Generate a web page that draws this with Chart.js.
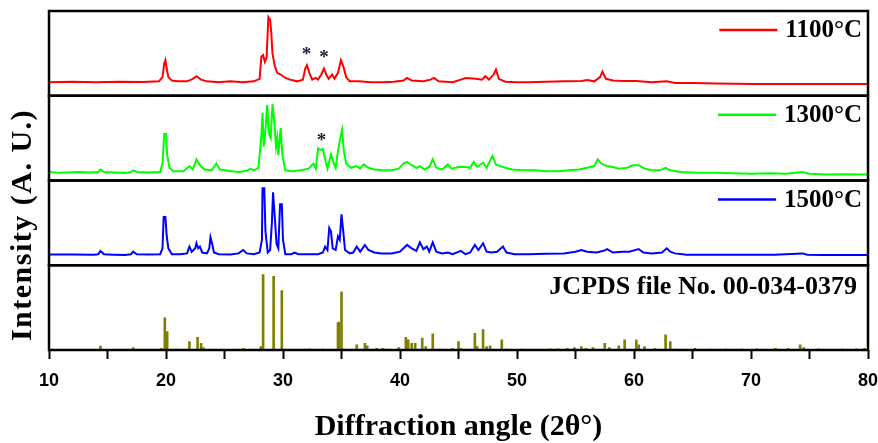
<!DOCTYPE html>
<html>
<head>
<meta charset="utf-8">
<script src="https://cdn.jsdelivr.net/npm/chart.js@4"></script>
<style>
  html, body { margin: 0; padding: 0; background: #fff; }
</style>
</head>
<body>
<canvas id="xrd" width="878" height="443"></canvas>
<script>
// 2theta (deg) vs relative intensity per panel (0-100 of panel height)
const red1100 = [
  [10,16],[12,16.5],[14,16],[16,16.5],[18,16.3],[19.4,17],[19.7,22],[19.85,38],[19.95,42],[20.05,33],[20.2,22],[20.5,18],
  [21,17],[21.8,17],[22.3,20],[22.6,23],[23,19],[23.5,17],[24.5,16],[25.5,17],[26.5,16],[27.5,17],[28,20],[28.15,46],
  [28.3,48],[28.45,40],[28.6,45],[28.75,93],[28.9,90],[29.0,74],[29.1,50],[29.3,35],[29.5,27],[29.8,25],[30.2,21],[30.6,19],
  [31.2,17],[31.7,19],[31.9,32],[32.05,36],[32.25,27],[32.5,19],[32.8,21],[33.0,19],[33.3,26],[33.5,32],[33.7,25],[33.9,20],
  [34.2,25],[34.4,20],[34.7,27],[34.95,42],[35.15,35],[35.4,22],[35.7,17],[36.5,17],[37.5,16],[38.5,16],[39.5,16.5],[40.3,18],
  [40.6,21],[41,18],[42,17],[42.6,19],[42.9,21],[43.3,17],[44.5,16],[45.2,19],[45.6,21],[46.5,20],[47.0,19],[47.3,23],
  [47.6,19],[48.0,25],[48.2,31],[48.45,20],[49,16.5],[50,16],[51,16],[52.5,16.5],[54,17],[55.5,17.5],[56,18.5],[56.6,17],
  [57.1,22],[57.3,28.5],[57.6,20],[58.2,18],[59,17.5],[60.2,17.5],[61.5,16],[62.8,17],[63.5,15],[65,15],[67,14.5],[70,14],
  [72,14],[74.5,14],[77,14],[80,14]
];
const green1300 = [
  [10,10],[11,9],[12.5,10],[13.5,9.5],[14.2,10],[14.4,13],[14.7,10],[15.5,9.5],[16.5,9],[17.0,10],[17.2,12],[17.5,10],
  [18.5,9.5],[19.5,10],[19.7,20],[19.85,55],[20.0,55],[20.1,30],[20.3,15],[20.6,11],[21.5,11],[22.0,17],[22.3,13],[22.6,25],
  [22.9,18],[23.3,13],[23.9,12],[24.3,20],[24.6,13],[25.1,12],[25.6,11],[26.3,10],[27.0,12],[27.2,14],[27.5,12],[27.9,15],
  [28.15,52],[28.25,80],[28.35,40],[28.5,60],[28.65,89],[28.8,55],[28.95,50],[29.1,90],[29.25,70],[29.4,40],[29.5,50],[29.6,30],
  [29.8,62],[29.95,30],[30.2,12],[30.8,11],[31.5,12],[32.2,14],[32.6,20],[32.8,14],[33.0,38],[33.2,36],[33.4,37],[33.6,25],
  [33.8,14],[34.1,31],[34.3,22],[34.5,15],[34.7,35],[34.9,50],[35.05,60],[35.2,35],[35.4,20],[35.8,15],[36.3,17],[36.6,14],
  [36.9,19],[37.3,15],[37.8,13],[38.5,12],[39.3,12],[39.9,14],[40.3,20],[40.6,22],[41.0,18],[41.4,15],[41.7,17],[42.1,13],
  [42.5,16],[42.8,25],[43.1,15],[43.6,13],[44.1,19],[44.4,14],[45.0,16],[45.6,16],[46.0,15],[46.3,22],[46.6,16],[47.1,21],
  [47.4,15],[47.9,29],[48.2,19],[48.6,17],[49.0,15],[49.6,13],[50.5,12],[51.5,12],[52.5,11],[53.5,11],[54.5,12],[55.3,13],
  [56.0,15],[56.6,17],[56.9,25],[57.2,20],[57.7,17],[58.2,16],[58.7,14],[59.4,15],[59.9,18],[60.4,18],[60.9,14],[61.5,12],
  [62.2,12],[62.7,15],[63.1,12],[64,10],[65.5,9],[67,9],[68.5,8.5],[70,8],[71.5,8.5],[73,8],[74.4,10],[75,8],
  [76.5,7],[78,7.5],[80,7]
];
const blue1500 = [
  [10,12.7],[12,12.7],[13.8,12.5],[14.2,13],[14.4,16.7],[14.7,13],[15.5,12.5],[16.5,12],[17.0,13],[17.2,16],[17.5,13],[18.5,12.7],
  [19.5,13],[19.7,20],[19.8,57],[19.95,57],[20.05,36],[20.2,20],[20.5,13],[21.2,13],[21.8,14],[22.0,22],[22.2,16],[22.5,20],
  [22.6,26],[22.75,20],[22.9,22],[23.1,15],[23.5,14],[23.7,20],[23.8,33],[23.95,25],[24.1,15],[24.5,13],[25.5,12.7],[26.2,14],
  [26.6,18],[26.9,14],[27.5,13],[28.0,15],[28.2,30],[28.25,91],[28.4,91],[28.5,40],[28.7,15],[28.9,18],[29.05,50],[29.15,86],
  [29.3,56],[29.45,25],[29.6,20],[29.75,72],[29.9,72],[30.0,30],[30.2,13],[30.7,13],[31.0,15],[31.3,13],[32.3,13],[33.0,13],
  [33.4,15],[33.6,22],[33.8,18],[33.95,44],[34.1,40],[34.25,20],[34.5,18],[34.7,34],[34.85,30],[35.0,60],[35.15,40],[35.3,18],
  [35.7,14],[36.0,15],[36.3,22],[36.6,16],[37.0,24],[37.3,18],[37.8,15],[38.4,14],[39.3,14],[40.0,16],[40.6,24],[41.0,20],
  [41.4,17],[41.7,27],[42.0,19],[42.3,22],[42.5,16],[42.8,27],[43.1,16],[43.6,14],[44.1,15],[44.5,13],[45.2,17],[45.6,13],
  [46.0,15],[46.4,24],[46.7,18],[47.1,26],[47.4,16],[47.8,15],[48.3,16],[48.8,22],[49.1,15],[49.8,13],[51,13],[52.5,13.5],
  [54,14],[55.0,16],[55.5,18],[56.0,16],[56.8,15],[57.4,17],[57.7,19],[58.2,15],[59.0,16],[59.6,16],[60.4,19],[60.8,15],
  [61.5,14],[62.4,15],[62.8,20],[63.1,16],[63.5,14],[64.5,12.5],[66,12.5],[68,12.3],[70,12.5],[72,12.3],[74.4,14],[74.8,12.5],
  [76,12],[78,12.2],[80,12]
];
// reference pattern sticks
const jcpdsAngles = [
  10.3,14.4,17.2,19.6,19.9,20.1,20.9,22.0,22.7,23.0,
  23.2,26.6,28.1,28.3,29.2,29.3,29.9,31.9,32.3,33.4,
  34.7,34.8,35.0,35.2,36.3,37.0,37.2,38.0,38.5,38.8,
  39.9,40.5,40.7,41.0,41.3,41.9,42.2,42.8,43.4,44.5,
  45.0,45.2,46.4,46.6,47.1,47.4,47.7,48.7,49.1,50.4,
  52.9,53.5,54.3,54.9,55.5,55.9,56.5,57.5,57.9,58.7,
  59.2,60.2,60.4,60.9,61.8,62.7,63.1,63.5,65.2,66.5,
  67.8,69.2,70.5,72.1,73.2,74.2,74.5,75.8,77.8,79.0,79.7
];
const jcpdsHeights = [
  1,4.7,3,2,38,21.6,1,10,15,8,
  3,2,4,89,87,1,70,1,1.5,1,
  32,33,68.6,1,6,8,5,2,2,1,
  3,15,12,8,8,14,4,19,1,2,
  10,2,19.6,4,24,4,5,12,1,1,
  1.5,1.5,2,3,4,2,3,8,3,5,
  12,12,6,4,2,18,10,1,2,1,
  1,1,1.5,2,2,6,3,1.5,1,1.5,2
];

const panelIds = ['y1100', 'y1300', 'y1500', 'yJ'];
const panelLabels = ['1100°C', '1300°C', '1500°C', 'JCPDS file No. 00-034-0379'];
const panelColors = ['#ff0000', '#00ff00', '#0000ff', null];

const starPanels = ['y1100', 'y1100', 'y1300'];
const starAngles = [32.0, 33.5, 33.3];
const starLevels = [53, 49, 51];

const serif = "'Liberation Serif', 'Times New Roman', serif";

const toXY = arr => arr.map(([x, y]) => ({ x, y }));

const panelDecor = {
  id: 'panelDecor',
  afterDraw(chart) {
    const { ctx, chartArea, scales } = chart;
    ctx.save();

    // panel frames
    ctx.strokeStyle = '#000';
    ctx.lineWidth = 2.5;
    panelIds.forEach(id => {
      const s = scales[id];
      ctx.strokeRect(chartArea.left, s.top, chartArea.right - chartArea.left, s.bottom - s.top);
    });

    // per-panel legends
    ctx.textAlign = 'right';
    ctx.textBaseline = 'middle';
    panelIds.forEach((id, i) => {
      const s = scales[id];
      const hasLine = !!panelColors[i];
      const xr = chartArea.right - (hasLine ? 6 : 11);
      const y = s.top + (hasLine ? 20 : 22);
      ctx.font = 'bold ' + (hasLine ? 25 : 26) + 'px ' + serif;
      ctx.fillStyle = '#000';
      ctx.fillText(panelLabels[i], xr, y);
      if (hasLine) {
        const w = ctx.measureText(panelLabels[i]).width;
        ctx.strokeStyle = panelColors[i];
        ctx.lineWidth = 2.5;
        ctx.beginPath();
        ctx.moveTo(xr - w - 66, y - 1);
        ctx.lineTo(xr - w - 8, y - 1);
        ctx.stroke();
      }
    });

    // impurity markers
    ctx.textAlign = 'center';
    ctx.font = 'bold 19px ' + serif;
    ctx.fillStyle = '#1b1b33';
    starAngles.forEach((a, i) => {
      const x = scales.x.getPixelForValue(a);
      const y = scales[starPanels[i]].getPixelForValue(starLevels[i]);
      ctx.fillText('*', x, y + 4);
    });

    // y axis title
    ctx.translate(23, 225);
    ctx.rotate(-Math.PI / 2);
    ctx.font = 'bold 30px ' + serif;
    ctx.letterSpacing = '1.5px';
    ctx.fillStyle = '#000';
    ctx.fillText('Intensity (A. U.)', 0, 0);
    ctx.restore();
  }
};

const panelAxis = {
  type: 'linear',
  min: 0,
  max: 100,
  stack: 'xrd',
  stackWeight: 1,
  position: 'left',
  display: false
};

new Chart(document.getElementById('xrd'), {
  type: 'line',
  data: {
    datasets: [
      { data: toXY(red1100), borderColor: '#ff0000', yAxisID: 'y1100' },
      { data: toXY(green1300), borderColor: '#00ff00', yAxisID: 'y1300' },
      { data: toXY(blue1500), borderColor: '#0000ff', yAxisID: 'y1500' },
      {
        type: 'bar',
        data: jcpdsAngles.map((a, i) => ({ x: a, y: jcpdsHeights[i] })),
        backgroundColor: '#808000',
        borderWidth: 0,
        barThickness: 2,
        yAxisID: 'yJ'
      }
    ]
  },
  options: {
    responsive: false,
    animation: false,
    layout: { padding: { left: 49, right: 10, top: 11, bottom: 0 } },
    elements: {
      line: { borderWidth: 2, tension: 0 },
      point: { radius: 0 }
    },
    plugins: {
      legend: { display: false },
      tooltip: { enabled: false }
    },
    scales: {
      x: {
        type: 'linear',
        position: 'bottom',
        min: 10,
        max: 80,
        offset: false,
        border: { display: false },
        grid: {
          offset: false,
          drawOnChartArea: false,
          drawTicks: true,
          tickLength: 9,
          tickWidth: 2,
          tickColor: '#000'
        },
        ticks: {
          stepSize: 5,
          autoSkip: false,
          maxRotation: 0,
          padding: 11,
          color: '#000',
          font: { family: "'Liberation Sans', Arial, sans-serif", size: 18, weight: 'bold' },
          callback: v => (v % 10 === 0 ? v : '')
        },
        title: {
          display: true,
          text: 'Diffraction angle (2θ°)',
          color: '#000',
          padding: { top: 0, bottom: 1 },
          font: { family: serif, size: 30, weight: 'bold', lineHeight: 1 }
        },
        afterFit: s => {
          s.height = 93;
          s.paddingLeft = 0;
          s.paddingRight = 0;
        }
      },
      yJ: { ...panelAxis },
      y1500: { ...panelAxis },
      y1300: { ...panelAxis },
      y1100: { ...panelAxis }
    }
  },
  plugins: [panelDecor]
});
</script>
</body>
</html>
